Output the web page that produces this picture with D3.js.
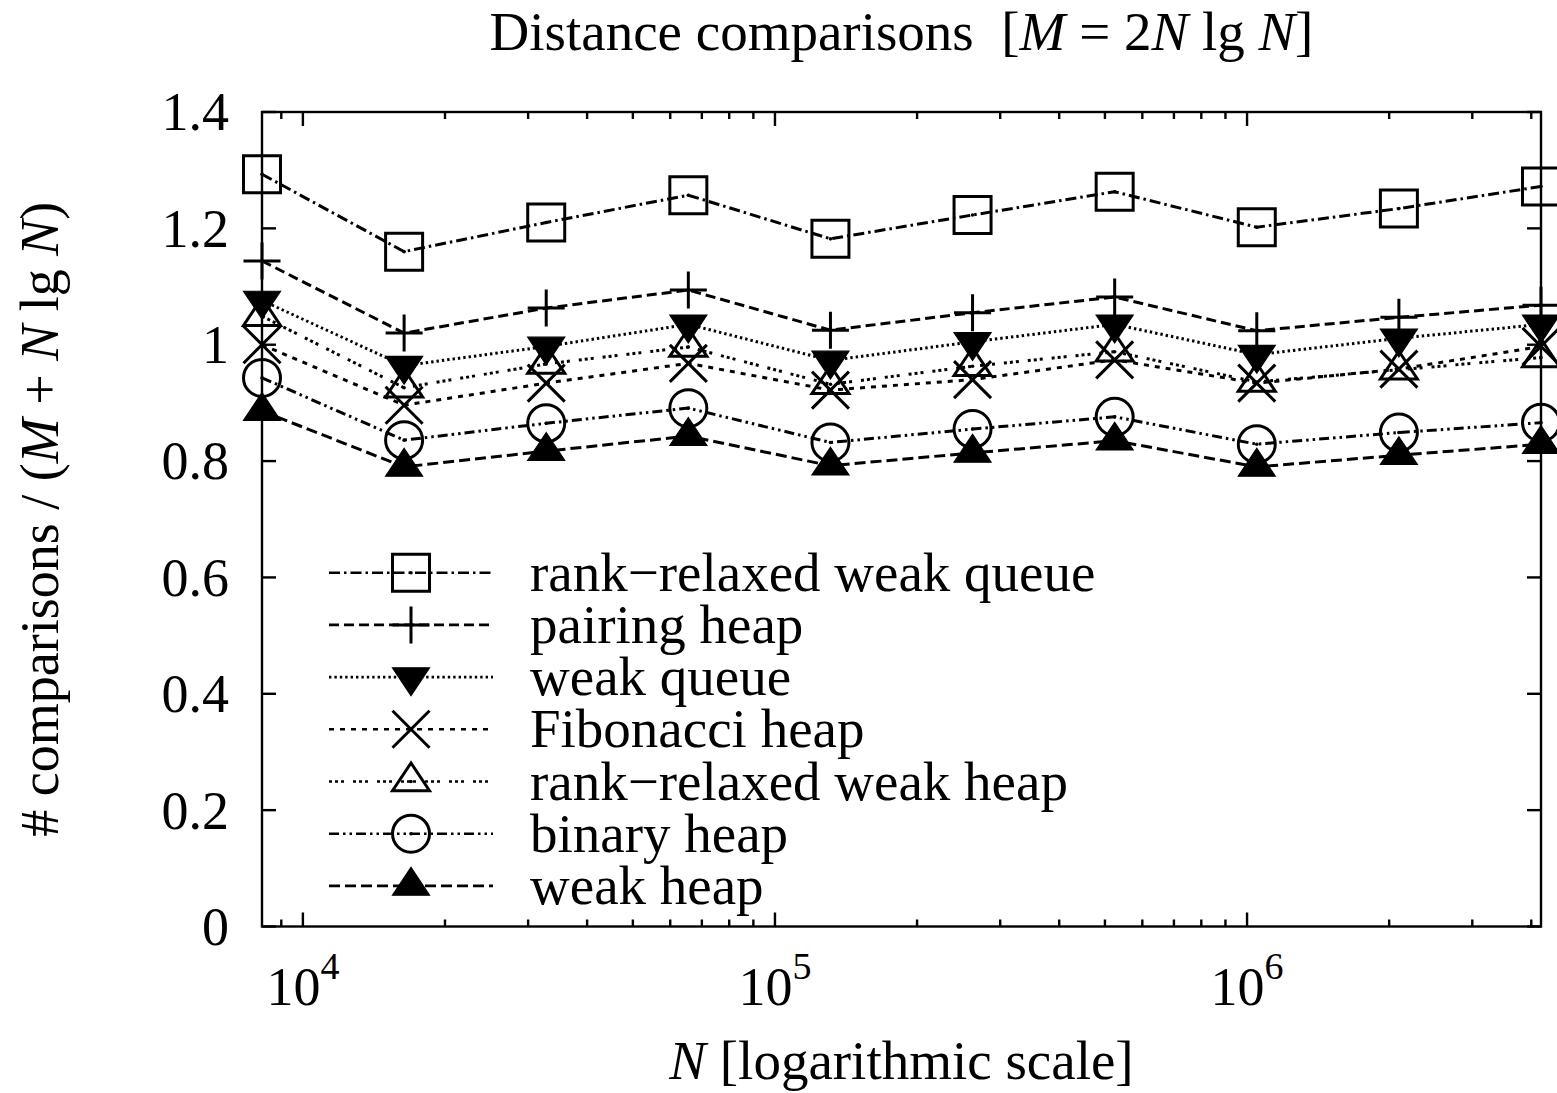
<!DOCTYPE html>
<html>
<head>
<meta charset="utf-8">
<script src="https://cdn.jsdelivr.net/npm/d3@7"></script>
<style>
body { margin: 0; background: #fff; }
svg text { font-family: "Liberation Serif", "Times New Roman", serif; fill: #000; }
</style>
</head>
<body>
<div id="chart-area"></div>
<script>
// Problem sizes N (2^13 .. 2^22)
var sizes = [8192, 16384, 32768, 65536, 131072, 262144, 524288, 1048576, 2097152, 4194304];

// comparisons / (M + N lg N)
var rankRelaxedWeakQueue = [1.293, 1.160, 1.210, 1.257, 1.182, 1.223, 1.263, 1.202, 1.234, 1.272];
var pairingHeap = [1.144, 1.020, 1.063, 1.094, 1.025, 1.055, 1.082, 1.024, 1.047, 1.068];
var weakQueue = [1.076, 0.964, 0.997, 1.035, 0.973, 1.005, 1.035, 0.983, 1.011, 1.035];
var fibonacciHeap = [1.000, 0.896, 0.934, 0.968, 0.922, 0.940, 0.974, 0.934, 0.958, 0.997];
var rankRelaxedWeakHeap = [1.049, 0.926, 0.967, 0.996, 0.932, 0.963, 0.988, 0.936, 0.957, 0.978];
var binaryHeap = [0.943, 0.836, 0.865, 0.891, 0.832, 0.855, 0.876, 0.829, 0.849, 0.866];
var weakHeap = [0.886, 0.790, 0.817, 0.843, 0.792, 0.814, 0.835, 0.790, 0.810, 0.829];

var seriesNames = ["rank\u2212relaxed weak queue", "pairing heap", "weak queue", "Fibonacci heap",
    "rank\u2212relaxed weak heap", "binary heap", "weak heap"];

var yTicks = [0, 0.2, 0.4, 0.6, 0.8, 1, 1.2, 1.4];
var yTickLabels = ["0", "0.2", "0.4", "0.6", "0.8", "1", "1.2", "1.4"];
var xMajorTicks = [1e4, 1e5, 1e6];
var xTickExponents = ["4", "5", "6"];

var seriesValues = [rankRelaxedWeakQueue, pairingHeap, weakQueue, fibonacciHeap,
    rankRelaxedWeakHeap, binaryHeap, weakHeap];

// line / point style per series
var seriesStyles = [
    { dash: "11,4,2.5,4", marker: "square" },
    { dash: "10,5", marker: "plus" },
    { dash: "2.4,3", marker: "triangleDown" },
    { dash: "5,6", marker: "times" },
    { dash: "3,3,3,3,3,9", marker: "triangleUp" },
    { dash: "10,4,2.5,4,2.5,4", marker: "circle" },
    { dash: "11,5", marker: "triangleUpFilled" }
];

function markerPath(type, r) {
    var p = d3.path();
    if (type === "square") {
        p.rect(-r, -r, 2 * r, 2 * r);
    } else if (type === "plus") {
        p.moveTo(-r, 0); p.lineTo(r, 0);
        p.moveTo(0, -r); p.lineTo(0, r);
    } else if (type === "times") {
        p.moveTo(-r, -r); p.lineTo(r, r);
        p.moveTo(-r, r); p.lineTo(r, -r);
    } else if (type === "triangleDown") {
        p.moveTo(0, r); p.lineTo(-r, -r / 2); p.lineTo(r, -r / 2); p.closePath();
    } else if (type === "triangleUp" || type === "triangleUpFilled") {
        p.moveTo(0, -r); p.lineTo(-r, r / 2); p.lineTo(r, r / 2); p.closePath();
    } else if (type === "circle") {
        p.moveTo(r, 0);
        p.arc(0, 0, r, 0, 2 * Math.PI);
    }
    return p.toString();
}

function drawMarker(g, type, cx, cy) {
    var filled = (type === "triangleDown" || type === "triangleUpFilled");
    g.append("path")
        .attr("transform", "translate(" + cx + "," + cy + ")")
        .attr("d", markerPath(type, 18.5))
        .attr("fill", filled ? "#000" : "none")
        .attr("stroke", "#000")
        .attr("stroke-width", filled ? 1.2 : 3)
        .attr("stroke-linejoin", "miter");
    // open symbols carry a dot at the data point
    if (type === "square" || type === "circle" || type === "triangleUp") {
        g.append("circle")
            .attr("cx", cx)
            .attr("cy", cy)
            .attr("r", 1.8)
            .attr("fill", "#000");
    }
}

var dims = {
    width: 1557,
    height: 1093,
    left: 262,
    right: 1541,
    top: 112,
    bottom: 926.5
};

var svg = d3.select("#chart-area")
    .append("svg")
    .attr("width", dims.width)
    .attr("height", dims.height);

var x = d3.scaleLog()
    .domain([sizes[0], sizes[sizes.length - 1]])
    .range([dims.left, dims.right]);

var y = d3.scaleLinear()
    .domain([0, 1.4])
    .range([dims.bottom, dims.top]);

// minor ticks for the log axis: 2..9 x 10^k inside the range
var xMinorTicks = [];
for (var k = 3; k <= 6; k++) {
    for (var m = 2; m <= 9; m++) {
        var v = m * Math.pow(10, k);
        if (v >= x.domain()[0] && v <= x.domain()[1]) xMinorTicks.push(v);
    }
}

var ticks = svg.append("g").attr("id", "ticks")
    .attr("stroke", "#000")
    .attr("stroke-width", 2.4);

function tickLines(values, scale, len, horizontal) {
    values.forEach(function (v) {
        var p = scale(v);
        if (horizontal) {
            ticks.append("line").attr("x1", dims.left).attr("x2", dims.left + len).attr("y1", p).attr("y2", p);
            ticks.append("line").attr("x1", dims.right).attr("x2", dims.right - len).attr("y1", p).attr("y2", p);
        } else {
            ticks.append("line").attr("x1", p).attr("x2", p).attr("y1", dims.bottom).attr("y2", dims.bottom - len);
            ticks.append("line").attr("x1", p).attr("x2", p).attr("y1", dims.top).attr("y2", dims.top + len);
        }
    });
}

tickLines(yTicks, y, 14, true);
tickLines(xMajorTicks, x, 14, false);
tickLines(xMinorTicks, x, 7, false);

// frame
svg.append("rect")
    .attr("x", dims.left)
    .attr("y", dims.top)
    .attr("width", dims.right - dims.left)
    .attr("height", dims.bottom - dims.top)
    .attr("fill", "none")
    .attr("stroke", "#000")
    .attr("stroke-width", 2.4);

// tick labels
svg.append("g").selectAll("text")
    .data(yTicks)
    .enter().append("text")
    .attr("x", 229)
    .attr("y", function (d) { return y(d); })
    .attr("dy", "0.34em")
    .attr("text-anchor", "end")
    .attr("font-size", 54)
    .text(function (d, i) { return yTickLabels[i]; });

var xLabels = svg.append("g").selectAll("text")
    .data(xMajorTicks)
    .enter().append("text")
    .attr("x", function (d) { return x(d); })
    .attr("y", dims.bottom + 78)
    .attr("text-anchor", "middle")
    .attr("font-size", 54);
xLabels.append("tspan").text("10");
xLabels.append("tspan")
    .attr("dy", -26)
    .attr("font-size", 38)
    .text(function (d, i) { return xTickExponents[i]; });

// series
var line = d3.line()
    .x(function (d) { return x(d[0]); })
    .y(function (d) { return y(d[1]); });

var plot = svg.append("g").attr("id", "series");
seriesValues.forEach(function (values, i) {
    var pts = sizes.map(function (n, j) { return [n, values[j]]; });
    plot.append("path")
        .attr("d", line(pts))
        .attr("fill", "none")
        .attr("stroke", "#000")
        .attr("stroke-width", 3)
        .attr("stroke-dasharray", seriesStyles[i].dash);
});
seriesValues.forEach(function (values, i) {
    sizes.forEach(function (n, j) {
        drawMarker(plot, seriesStyles[i].marker, x(n), y(values[j]));
    });
});

// legend
var legend = svg.append("g").attr("id", "legend");
seriesNames.forEach(function (name, i) {
    var ly = 572.7 + i * 52.2;
    legend.append("line")
        .attr("x1", 329)
        .attr("x2", 493)
        .attr("y1", ly)
        .attr("y2", ly)
        .attr("stroke", "#000")
        .attr("stroke-width", 2.6)
        .attr("stroke-dasharray", seriesStyles[i].dash);
    drawMarker(legend, seriesStyles[i].marker, 411, ly);
    legend.append("text")
        .attr("x", 530)
        .attr("y", ly)
        .attr("dy", "0.33em")
        .attr("font-size", 55)
        .text(name);
});

// title
var title = svg.append("text")
    .attr("x", (dims.left + dims.right) / 2)
    .attr("y", 50)
    .attr("text-anchor", "middle")
    .attr("font-size", 55)
    .attr("xml:space", "preserve");
title.append("tspan").text("Distance comparisons  [");
title.append("tspan").attr("font-style", "italic").text("M");
title.append("tspan").text(" = 2");
title.append("tspan").attr("font-style", "italic").text("N");
title.append("tspan").text(" lg ");
title.append("tspan").attr("font-style", "italic").text("N");
title.append("tspan").text("]");

// x axis label
var xTitle = svg.append("text")
    .attr("x", (dims.left + dims.right) / 2)
    .attr("y", 1079)
    .attr("text-anchor", "middle")
    .attr("font-size", 55);
xTitle.append("tspan").attr("font-style", "italic").text("N");
xTitle.append("tspan").text(" [logarithmic scale]");

// y axis label
var yTitle = svg.append("text")
    .attr("transform", "translate(58," + (dims.top + dims.bottom) / 2 + ") rotate(-90)")
    .attr("text-anchor", "middle")
    .attr("font-size", 54);
yTitle.append("tspan").text("# comparisons / (");
yTitle.append("tspan").attr("font-style", "italic").text("M");
yTitle.append("tspan").text(" + ");
yTitle.append("tspan").attr("font-style", "italic").text("N");
yTitle.append("tspan").text(" lg ");
yTitle.append("tspan").attr("font-style", "italic").text("N");
yTitle.append("tspan").text(")");
</script>
</body>
</html>
